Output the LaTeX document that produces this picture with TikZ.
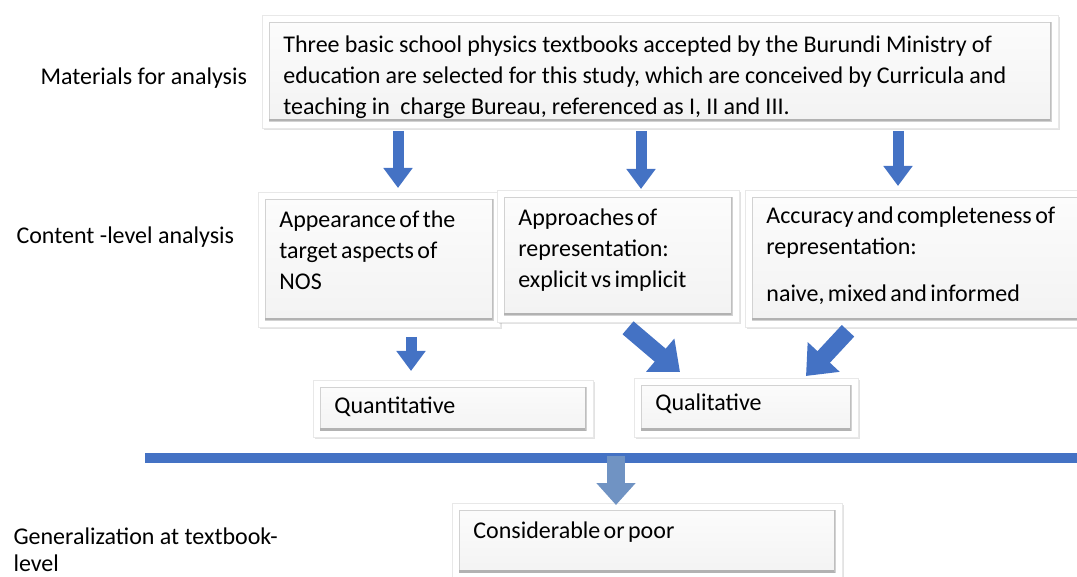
\documentclass[tikz,border=0pt]{standalone}
\usepackage{fontspec}
\setmainfont{Carlito}
\usetikzlibrary{arrows.meta,shadows}
\definecolor{ablue}{HTML}{4472C4}
\definecolor{lblue}{HTML}{7093C3}
\newcommand\tsp{\spaceskip=3.4pt plus 1pt minus 1pt\relax}
\newcommand\wsp{\spaceskip=5.2pt plus 1pt minus 1pt\relax}
\tikzset{
  box/.style={anchor=north west, fill=white, draw=gray!18, line width=0.8pt,
    drop shadow={shadow xshift=1.5pt,shadow yshift=-2pt,opacity=0.22},
    align=left, inner xsep=21pt, inner ysep=0pt, minimum height=0pt,
    font=\fontsize{24}{31}\selectfont,
    path picture={
      \fill[top color=gray!2,bottom color=gray!10]
        ([shift={(7pt,-7pt)}]path picture bounding box.north west) rectangle
        ([shift={(-7pt,7pt)}]path picture bounding box.south east);
      \draw[gray!35,line width=1.2pt]
        ([shift={(7pt,-7pt)}]path picture bounding box.north west) rectangle
        ([shift={(-7pt,7pt)}]path picture bounding box.south east);
      \draw[gray!60,line width=2.2pt]
        ([shift={(7pt,8pt)}]path picture bounding box.south west) --
        ([shift={(-7pt,8pt)}]path picture bounding box.south east);
      \draw[gray!50,line width=1.6pt]
        ([shift={(-8pt,-7pt)}]path picture bounding box.north east) --
        ([shift={(-8pt,7pt)}]path picture bounding box.south east);
    }},
  lab/.style={anchor=base west, align=left, font=\fontsize{24}{27}\selectfont},
  varrow/.style={draw=ablue, line width=11pt, -{Triangle[width=28pt,length=20pt]}},
  darrow/.style={draw=ablue, line width=17pt, -{Triangle[width=42pt,length=26pt]}},
  garrow/.style={draw=lblue, line width=18pt, -{Triangle[width=38pt,length=22pt]}},
}
\begin{document}
\begin{tikzpicture}[x=1pt,y=-1pt]
\useasboundingbox (0,0) rectangle (1077,577);
% boxes
\node[box, minimum width=796pt, text width=754pt, text height=37pt, text depth=76pt] (top) at (262,15)
 {\wsp Three basic school physics textbooks accepted by the Burundi Ministry of\\
  education are selected for this study, which are conceived by Curricula and\\
  teaching in\ \ charge Bureau, referenced as I, II and III.};
\node[box, minimum width=242pt, text width=200pt, text height=35pt, text depth=100pt] (A) at (258,192)
 {\tsp Appearance of the\\target aspects of\\NOS};
\node[box, minimum width=241pt, text width=200pt, text height=35pt, text depth=97pt] (B) at (497,190)
 {\tsp Approaches of\\representation:\\explicit vs implicit};
\node[box, minimum width=332pt, text width=300pt, text height=33pt, text depth=104pt] (C) at (745,190)
 {\tsp Accuracy and completeness of\\representation:\\[16pt]naive, mixed and informed};
\node[box, minimum width=280pt, text width=238pt, text height=33pt, text depth=24pt] (Qn) at (313,380)
 {Quantitative};
\node[box, minimum width=224pt, text width=182pt, text height=32pt, text depth=27pt] (Ql) at (634,378)
 {Qualitative};
\node[box, minimum width=390pt, text width=348pt, text height=35pt, text depth=41pt] (G) at (452,503)
 {\tsp Considerable or poor};
% labels
\node[lab] (l1) at (37,85) {Materials for analysis};
\node[lab] (l2) at (13,244) {Content -level analysis};
\node[lab] (l3) at (10,571) {Generalization at textbook-\\level};
% separator line
\coordinate (s1) at (145,458);
\coordinate (s2) at (1077,458);
\draw[ablue, line width=10pt] (s1) -- (s2);
\coordinate (sm) at (616,456);
% arrows
\draw[varrow] ([shift={(136,2)}]top.south west) -- ([shift={(140,-4)}]A.north west);
\draw[varrow] ([shift={(379,2)}]top.south west) -- ([shift={(144,-1)}]B.north west);
\draw[varrow] ([shift={(636,2)}]top.south west) -- ([shift={(153,-4)}]C.north west);
\draw[varrow] ([shift={(153,9)}]A.south west) -- ([shift={(98,-9)}]Qn.north west);
\draw[darrow] ([shift={(131,5)}]B.south west) -- ([shift={(46,-6)}]Ql.north west);
\draw[darrow] ([shift={(103,3)}]C.south west) -- ([shift={(172,-2)}]Ql.north west);
\draw[garrow] (sm) -- ([shift={(164,2)}]G.north west);
\end{tikzpicture}
\end{document}
